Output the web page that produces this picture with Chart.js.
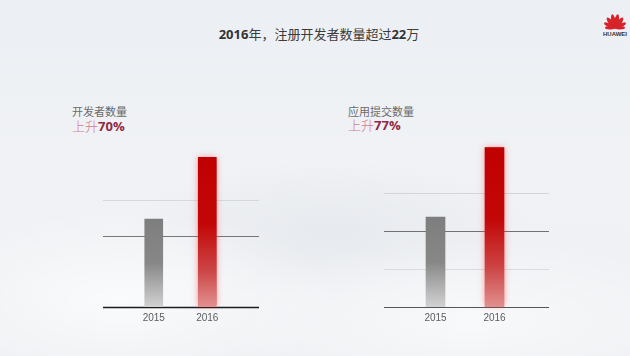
<!DOCTYPE html>
<html>
<head>
<meta charset="utf-8">
<script src="https://cdn.jsdelivr.net/npm/chart.js@4.4.1/dist/chart.umd.min.js"></script>
<style>
  html, body { margin: 0; padding: 0; }
  body {
    width: 630px; height: 356px; position: relative; overflow: hidden;
    background:
      radial-gradient(ellipse 220px 90px at 120px 300px, rgba(255,255,255,0.7), rgba(255,255,255,0)),
      radial-gradient(ellipse 260px 80px at 470px 320px, rgba(255,255,255,0.6), rgba(255,255,255,0)),
      radial-gradient(ellipse 200px 70px at 330px 230px, rgba(225,228,233,0.6), rgba(225,228,233,0)),
      linear-gradient(to bottom, #eceff3 0%, #f0f2f5 45%, #eef0f3 100%);
    font-family: "Noto Sans CJK SC", "Noto Sans", sans-serif;
  }
  canvas { position: absolute; left: 0; top: 0; }
  .title {
    position: absolute; top: 24px; left: 0; width: 638px; text-align: center;
    font-size: 13px; color: #3c3c3c; line-height: 20px;
  }
  .title b { font-family: "Open Sans", "Noto Sans", sans-serif; font-weight: 700; color: #333; }
  .lbl { position: absolute; font-size: 11px; color: #6b6b6b; line-height: 14px; }
  .pct { position: absolute; font-size: 13px; line-height: 16px; color: #d27a8c; font-weight: 300; }
  .pct b { color: #8e2a46; font-family: "Open Sans", "Noto Sans", sans-serif; font-weight: 700; }
  .logo { position: absolute; left: 600px; top: 6px; }
</style>
</head>
<body>
<div class="title"><b>2016</b>年，注册开发者数量超过<b>22</b>万</div>

<div class="lbl" style="left:72px; top:104px;">开发者数量</div>
<div class="pct" style="left:72px; top:118px;">上升<b>70%</b></div>
<div class="lbl" style="left:348px; top:104px;">应用提交数量</div>
<div class="pct" style="left:348px; top:117px;">上升<b>77%</b></div>

<svg class="logo" width="30" height="32" viewBox="0 0 30 32">
  <g transform="translate(15,22)" fill="#d8232a">
    <ellipse cx="0" cy="-7" rx="2.2" ry="7" transform="rotate(-12)"/>
    <ellipse cx="0" cy="-7" rx="2.2" ry="7" transform="rotate(12)"/>
    <ellipse cx="0" cy="-6.5" rx="2.2" ry="6.5" transform="rotate(-38)"/>
    <ellipse cx="0" cy="-6.5" rx="2.2" ry="6.5" transform="rotate(38)"/>
    <ellipse cx="0" cy="-6" rx="2" ry="6" transform="rotate(-65)"/>
    <ellipse cx="0" cy="-6" rx="2" ry="6" transform="rotate(65)"/>
    <ellipse cx="0" cy="-5" rx="1.6" ry="5" transform="rotate(-88)"/>
    <ellipse cx="0" cy="-5" rx="1.6" ry="5" transform="rotate(88)"/>
  </g>
  <text x="15" y="30" text-anchor="middle" font-family="Liberation Sans, sans-serif" font-size="6" font-weight="bold" fill="#333">HUAWEI</text>
</svg>

<canvas id="devChart" width="630" height="356"></canvas>
<canvas id="appChart" width="630" height="356"></canvas>

<script>
// 数据
const years = ['2015', '2016'];
const devValues = [13, 22.1];        // 开发者数量 (万)
const appValues = [100, 177];        // 应用提交数量 (指数)
const devGridValues = [0, 10.5, 15.75];
const appGridValues = [0, 42.2, 84.4, 126.7];

// 柱子渐变色
function barGradient(context) {
    const chart = context.chart;
    if (!chart.chartArea) return '#888';
    const y = chart.scales.y;
    const top = y.getPixelForValue(context.parsed.y);
    const bottom = y.getPixelForValue(0);
    const g = chart.ctx.createLinearGradient(0, top, 0, bottom);
    if (context.dataIndex === 0) {
        g.addColorStop(0, '#7e7e7e');
        g.addColorStop(0.5, '#878787');
        g.addColorStop(1, '#d2d2d2');
    } else {
        g.addColorStop(0, '#bf0000');
        g.addColorStop(0.45, '#c30707');
        g.addColorStop(0.75, '#cc4444');
        g.addColorStop(1, '#e29090');
    }
    return g;
}

// 横线 (含底线), 延伸到绘图区外
const guideLines = {
    id: 'guideLines',
    beforeDatasetsDraw(chart, args, opts) {
        const { ctx, chartArea, scales: { y } } = chart;
        const x0 = chartArea.left - opts.extendLeft;
        const x1 = chartArea.right + opts.extendRight;
        ctx.save();
        opts.values.forEach((v, i) => {
            const st = opts.styles[i];
            const py = Math.round(y.getPixelForValue(v)) + 0.5;
            ctx.beginPath();
            ctx.strokeStyle = st.color;
            ctx.lineWidth = st.width;
            ctx.moveTo(x0, py);
            ctx.lineTo(x1, py);
            ctx.stroke();
        });
        // 红色柱子的光晕
        const bar = chart.getDatasetMeta(0).data[1];
        if (bar) {
            ctx.shadowColor = 'rgba(255, 60, 60, 0.55)';
            ctx.shadowBlur = 6;
            ctx.fillStyle = '#c00000';
            ctx.fillRect(bar.x - bar.width / 2, bar.y, bar.width, bar.base - bar.y - 2);
        }
        ctx.restore();
    }
};

function makeChart(id, values, yMax, gridValues, gridStyles, pad, extend, thickness) {
    return new Chart(document.getElementById(id), {
        type: 'bar',
        data: {
            labels: years,
            datasets: [{
                data: values,
                backgroundColor: barGradient,
                borderWidth: 0,
                barThickness: thickness
            }]
        },
        options: {
            responsive: false,
            animation: false,
            devicePixelRatio: 1,
            layout: { padding: pad },
            scales: {
                x: {
                    grid: { display: false, drawTicks: false },
                    border: { display: false },
                    ticks: {
                        color: '#5c5c5c',
                        padding: 5,
                        font: { size: 10, family: 'Liberation Sans' }
                    },
                    afterFit: (scale) => { scale.height = 20; }
                },
                y: { display: false, min: 0, max: yMax }
            },
            plugins: {
                legend: { display: false },
                tooltip: { enabled: false },
                guideLines: {
                    values: gridValues,
                    styles: gridStyles,
                    extendLeft: extend[0],
                    extendRight: extend[1]
                }
            }
        },
        plugins: [guideLines]
    });
}

makeChart('devChart', devValues, 26.6, devGridValues,
    [{ color: '#1c1c1c', width: 1.5 }, { color: '#777777', width: 1 }, { color: '#d5d8dc', width: 1 }],
    { left: 127, right: 396, top: 127, bottom: 29 }, [24, 25], 18);

makeChart('appChart', appValues, 200, appGridValues,
    [{ color: '#555555', width: 1.2 }, { color: '#dadcdf', width: 1 }, { color: '#727272', width: 1 }, { color: '#d3d5d8', width: 1 }],
    { left: 406, right: 106, top: 127, bottom: 29 }, [22, 25], 19);
</script>
</body>
</html>
